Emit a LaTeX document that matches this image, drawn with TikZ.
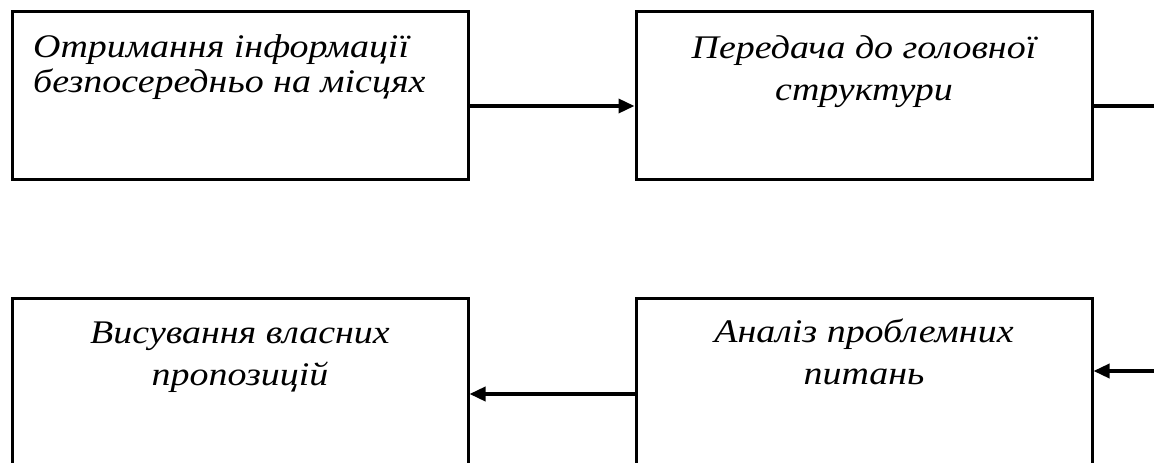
\documentclass[tikz,border=0pt]{standalone}
\usepackage{fontspec}
\setmainfont{Liberation Serif}
\newfontfamily\stagefont[FakeStretch=1.15]{Liberation Serif}
\usetikzlibrary{arrows.meta}

\begin{document}
\begin{tikzpicture}[x=1pt,y=1pt,
  stage/.style={draw=black, line width=3pt, rectangle, inner sep=0pt,
    minimum width=456pt, minimum height=168pt},
  tallstage/.style={stage, minimum height=172pt},
  label1/.style={inner sep=0pt, font=\stagefont\itshape\fontsize{33}{35}\selectfont},
  label2/.style={inner sep=0pt, font=\stagefont\itshape\fontsize{33}{42}\selectfont},
  link/.style={line width=3.5pt},
  flow/.style={link, -{Triangle[length=16pt,width=14pt]}}]
  \useasboundingbox (0,0) rectangle (1154,-463);
  \clip (0,0) rectangle (1154,-463);

  % the four stages
  \node[stage]     (A) at (240,-95)  {};
  \node[stage]     (B) at (864,-95)  {};
  \node[tallstage] (C) at (240,-384) {};
  \node[tallstage] (D) at (864,-384) {};

  % stage captions (a 32pt strut fixes the first baseline)
  \node[label1, anchor=north west, align=left] (tA) at (33,-25)
    {\rule{0pt}{32pt}Отримання інформації\\безпосередньо на місцях};
  \node[label2, anchor=north, align=center] (tB) at (864,-26)
    {\rule{0pt}{32pt}Передача до головної\\структури};
  \node[label2, anchor=north, align=center] (tC) at (240,-311)
    {\rule{0pt}{32pt}Висування власних\\пропозицій};
  \node[label2, anchor=north, align=center] (tD) at (864,-310)
    {\rule{0pt}{32pt}Аналіз проблемних\\питань};

  % connector levels and free ends at the right margin
  \coordinate (topflow) at (1154,-106);
  \coordinate (inD)     at (1154,-371);
  \coordinate (lowflow) at (0,-394);

  \draw[flow] (A.east |- topflow) -- (B.west |- topflow);
  \draw[link] (B.east |- topflow) -- (topflow);
  \draw[flow] (inD) -- (D.east |- inD);
  \draw[flow] (D.west |- lowflow) -- (C.east |- lowflow);
\end{tikzpicture}
\end{document}
